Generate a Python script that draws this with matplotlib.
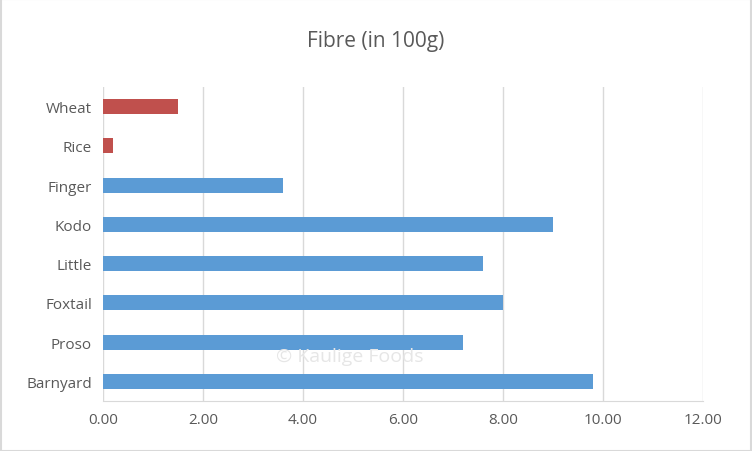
import matplotlib.pyplot as plt

grains = ['Barnyard', 'Proso', 'Foxtail', 'Little', 'Kodo', 'Finger', 'Rice', 'Wheat']
fibre = [9.8, 7.2, 8.0, 7.6, 9.0, 3.6, 0.2, 1.5]
colors = ['#5B9BD5'] * 6 + ['#C0504D'] * 2

plt.rcParams['font.family'] = ['Open Sans', 'DejaVu Sans']
fig = plt.figure(figsize=(7.52, 4.52), dpi=100)
ax = fig.add_axes([103/752, 50/452, 600/752, 314/452])

ax.barh(grains, fibre, height=0.38, color=colors, zorder=3)
ax.set_xlim(0, 12)
ax.set_ylim(-0.5, 7.5)
ax.set_xticks(range(0, 13, 2))
ax.set_xticklabels([f'{v:.2f}' for v in range(0, 13, 2)])
ax.grid(axis='x', color='#D9D9D9', linewidth=1, zorder=0)
for s in ['top', 'right', 'left']:
    ax.spines[s].set_visible(False)
ax.spines['bottom'].set_color('#D9D9D9')
ax.tick_params(length=0, labelsize=11, colors='#595959', pad=8)

fig.text(0.5, 1 - 42/452, 'Fibre (in 100g)', ha='center', va='center', fontsize=15, color='#595959')
fig.text(350/752, 1 - 357/452, '© Kaulige Foods', ha='center', va='center', fontsize=14, color='#E6E6E6', zorder=5)
fig.patches.append(plt.Rectangle((0.001, 0.001), 0.998, 0.998, transform=fig.transFigure,
                                 fill=False, edgecolor='#D9D9D9', linewidth=1.5))

fig.savefig('out.png', dpi=100)
